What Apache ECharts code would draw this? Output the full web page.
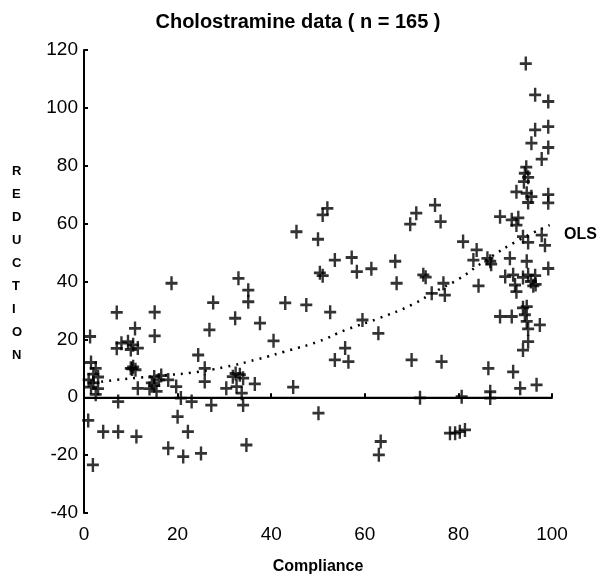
<!DOCTYPE html>
<html>
<head>
<meta charset="utf-8">
<script src="https://cdn.jsdelivr.net/npm/echarts@6/dist/echarts.min.js"></script>
<style>html,body{margin:0;padding:0;background:#fff;}#chart{width:601px;height:575px;}</style>
</head>
<body>
<div id="chart"></div>
<script>
const compliance = [1.3,0.9,1.9,4.1,1.5,2.5,2,3,1,2,1.5,3,2.5,7,7,8,9.4,10.5,11.5,10,10.9,10,10.5,11,10.3,7.3,7.3,11.2,11.5,15.1,15.1,14,14.5,15,15.5,16,16.5,15,18,19.7,18.7,20,18,20.7,23,27.2,22.2,21.2,25,24.4,25.8,25.8,26.8,27.6,32.3,33,35.1,35.1,37.6,30.4,31.8,32.4,33.3,34,36.5,32.6,33.7,34,34.7,40.5,43,47.5,44.7,45.4,50,51,52,50.4,51,52.6,50.1,53.6,57.2,58.3,55.8,53.6,56.5,59.5,61.4,62.9,63.4,63,66.5,66.8,69.7,71,75,76.2,70,71.8,72.5,73,76.8,74.3,77.1,76.4,78.2,79.3,80.3,81.4,80.7,81,83.9,83.2,86.2,86.8,84.3,86.4,86.8,86.8,88.9,88.9,87,90,91,91.4,92.8,92.4,92.4,91.7,92.1,92.4,91.4,91.7,93.2,94.4,96.4,99.2,96.4,99.2,95.6,99.2,97.8,94.5,94.2,94,94.9,94.6,95.6,94.9,99.2,99.2,93.8,94.9,97.8,98.5,94.6,99.2,93.8,94.9,96.4,95.5,96.5,96,94.6,93.8,94.2,94.6,94.9,97.4,94.9,93.8,96.7];
const reduction = [21,-8,-23.4,-11.9,12,10,8,7,6,5,3.5,3,1,29.3,16.9,18.7,19.2,18.1,17,16.5,23.8,10,10.5,9.5,9.8,-1.5,-11.9,-13.6,3.1,29.4,21.2,3,5,4,2,6,7.5,7,6,3.7,39.4,-6.7,-17.6,-0.3,-1.5,-2.7,-11.9,-20.5,-19.4,14.6,10,5.4,23.3,32.7,27.3,41.1,37,33,25.6,3.1,7.1,8.2,7.8,6.6,4.6,3.7,1.4,-2.7,-16.5,19.5,32.6,31.9,3.5,57.2,54.6,63,65.3,43,42,29.4,-5.5,47.4,48.3,43.4,17,12.9,12.3,26.7,44.4,22.1,-15.3,-19.9,47,39.4,59.8,63.6,66.4,60.7,12.9,-0.2,42.3,41.5,39.4,35.9,35.3,12.3,-12.4,-12.4,-11.9,-11.3,0.2,53.8,50.9,47.4,48,47,38.5,10,1.9,-0.3,62.4,27.9,46,41.7,48,61.3,62,59.5,71,42.3,38.8,36.5,27.9,8.8,3.1,115.3,104.5,102.2,92.4,93.5,87.8,86.3,82.3,79.5,77.4,74.5,76,70.5,69.3,67.3,70,67.2,55.5,53.5,56,52.5,47,44.5,41.4,42.3,42,40,39,38.5,31.3,30.9,28.5,26.2,23.6,25,19.2,16.3,4.3];
const olsX = [2,7,12,18,23,30,37,44,50,56,63,70,75,80,86,93,99.5];
const olsY = [5,6,6.8,7.7,8.5,10.4,13.1,16.3,19.2,23.3,27.3,31.9,36.5,40.8,47.5,54.4,59.5];
const zeroX = [0,100];
const zeroY = [0,0];
const xTicks = [0,20,40,60,80,100];
const yTicks = [-40,-20,0,20,40,60,80,100,120];

const pts = compliance.map((x,i)=>[x,reduction[i]]);
const ols = olsX.map((x,i)=>[x,olsY[i]]);
const zero = zeroX.map((x,i)=>[x,zeroY[i]]);
const FONT = "'Liberation Sans', Arial, sans-serif";

const chart = echarts.init(document.getElementById('chart'), null, {renderer:'canvas'});
chart.setOption({
  animation:false,
  backgroundColor:'#fff',
  title:{text:'Cholostramine data ( n = 165 )', left:293, textAlign:'center', top:7,
    textStyle:{fontFamily:FONT, fontWeight:'bold', fontSize:20, color:'#000'}},
  grid:{left:84, right:49, top:50, bottom:62, containLabel:false, outerBoundsMode:'none'},
  xAxis:{type:'value', min:0, max:100, interval:20,
    axisLine:{show:true, lineStyle:{color:'#000', width:2}},
    axisTick:{show:true, inside:true, length:4, lineStyle:{color:'#000', width:2}},
    axisLabel:{color:'#000', fontFamily:FONT, fontSize:19, margin:12, formatter:v=>xTicks.includes(v)?String(v):''},
    splitLine:{show:false},
    name:'Compliance', nameLocation:'middle', nameGap:46,
    nameTextStyle:{fontFamily:FONT, fontWeight:'bold', fontSize:16, color:'#000'}
  },
  yAxis:{type:'value', min:-40, max:120, interval:20,
    axisLine:{show:true, lineStyle:{color:'#000', width:2}},
    axisTick:{show:true, inside:true, length:4, lineStyle:{color:'#000', width:2}},
    axisLabel:{color:'#000', fontFamily:FONT, fontSize:19, margin:6, formatter:v=>yTicks.includes(v)?String(v):''},
    splitLine:{show:false}
  },
  graphic:[
    {type:'text', left:12, top:160, style:{text:'R\nE\nD\nU\nC\nT\nI\nO\nN', fill:'#000',
      font:"bold 13px 'Liberation Sans', Arial, sans-serif", lineHeight:23, align:'center'}},
    {type:'text', left:564, top:227, style:{text:'OLS', fill:'#000',
      font:"bold 16px 'Liberation Sans', Arial, sans-serif"}}
  ],
  series:[
    {type:'line', data:zero, symbol:'none', lineStyle:{color:'#000', width:1}, silent:true, z:1},
    {type:'line', data:ols, symbol:'none', smooth:true, lineStyle:{color:'#000', width:2.5, type:[2,6]}, silent:true, z:2},
    {type:'scatter', data:pts, symbol:'path://M5,0L5,12M0,6L10,6', symbolSize:[12,14],
      itemStyle:{color:'rgba(0,0,0,0)', borderColor:'#000', borderWidth:2.6}, z:3}
  ]
});
</script>
</body>
</html>
